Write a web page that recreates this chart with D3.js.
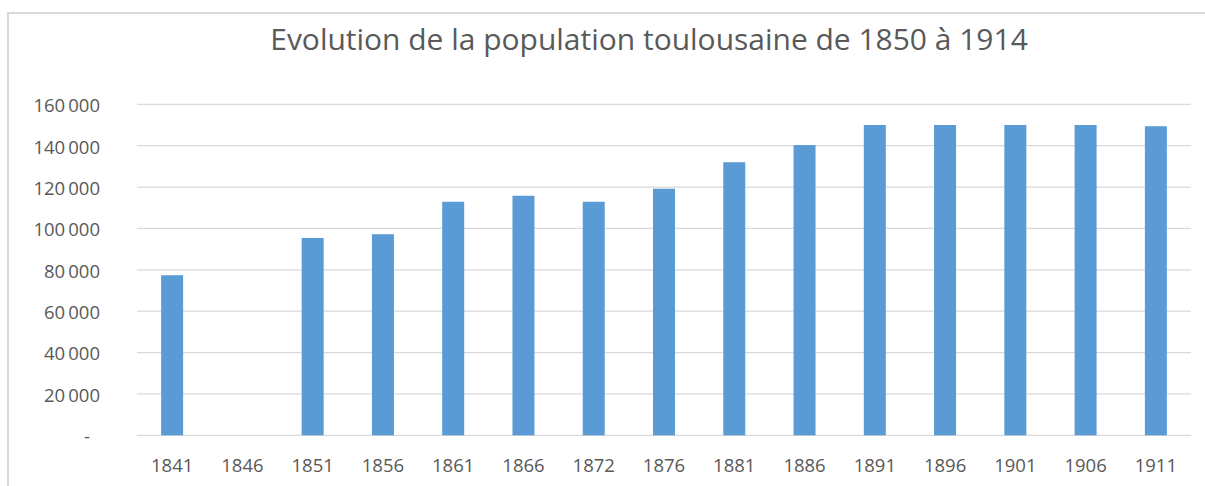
<!DOCTYPE html>
<html><head><meta charset="utf-8">
<script src="https://cdn.jsdelivr.net/npm/d3@7"></script>
<style>body{margin:0;background:#fff}svg{display:block}</style>
</head><body>
<svg id="c" width="1205" height="486"></svg>
<script>
const title = "Evolution de la population toulousaine de 1850 à 1914";
const categories = ["1841","1846","1851","1856","1861","1866","1872","1876","1881","1886","1891","1896","1901","1906","1911"];
const population = [77372, 0, 95400, 97200, 112900, 115800, 112900, 119200, 132000, 140300, 150000, 150000, 150000, 150000, 149400];
const yTicks = [0, 20000, 40000, 60000, 80000, 100000, 120000, 140000, 160000];

const svg = d3.select("#c");
const font = "'Open Sans', 'Liberation Sans', sans-serif";
const textColor = "#595959";
const gridColor = "#d9d9d9";

// chart border
svg.append("rect").attr("x", 8).attr("y", 13).attr("width", 1230).attr("height", 500)
  .attr("fill", "none").attr("stroke", "#d9d9d9").attr("stroke-width", 2);

const m = {left: 137, right: 1191, top: 104.3, bottom: 435.3};
const x = d3.scaleBand().domain(categories).range([m.left, m.right]).paddingInner(0.687).paddingOuter(0.3435);
const y = d3.scaleLinear().domain([0, 160000]).range([m.bottom, m.top]);

// gridlines
svg.append("g").selectAll("line").data(yTicks).join("line")
  .attr("x1", m.left).attr("x2", m.right)
  .attr("y1", d => y(d)).attr("y2", d => y(d))
  .attr("stroke", gridColor).attr("stroke-width", 1.3);

// y axis labels
const fmt = d => d === 0 ? "-" : d3.format(",")(d).replace(/,/g, "\u2009");
const yAxis = d3.axisLeft(y).tickValues(yTicks).tickFormat(fmt).tickSize(0).tickPadding(0);
const gy = svg.append("g").attr("transform", "translate(100,0)").call(yAxis);
gy.select(".domain").remove();
gy.selectAll("text").attr("fill", textColor).attr("font-family", font).attr("font-size", 18.5)
  .attr("dy", "0.4em");
gy.selectAll(".tick").filter(d => d === 0).select("text").attr("dx", "-10");

// bars
svg.append("g").selectAll("rect").data(categories.map((c, i) => ({c, v: population[i]})).filter(d => d.v > 0))
  .join("rect")
  .attr("x", d => x(d.c)).attr("width", x.bandwidth())
  .attr("y", d => y(d.v)).attr("height", d => y(0) - y(d.v))
  .attr("fill", "#5b9bd5");

// x axis labels
const xAxis = d3.axisBottom(x).tickSize(0).tickPadding(0);
const gx = svg.append("g").attr("transform", `translate(0,${m.bottom})`).call(xAxis);
gx.select(".domain").remove();
gx.selectAll("text").attr("fill", textColor).attr("font-family", font).attr("font-size", 18.5)
  .attr("dy", null).attr("y", 36.5);

// title fitted to width
const t = svg.append("text").attr("x", 649).attr("y", 50).attr("text-anchor", "middle")
  .attr("fill", textColor).attr("font-family", font).attr("font-size", 26).text(title);
const w = t.node().getComputedTextLength();
t.attr("font-size", 26 * 758 / w);
</script>
</body></html>
